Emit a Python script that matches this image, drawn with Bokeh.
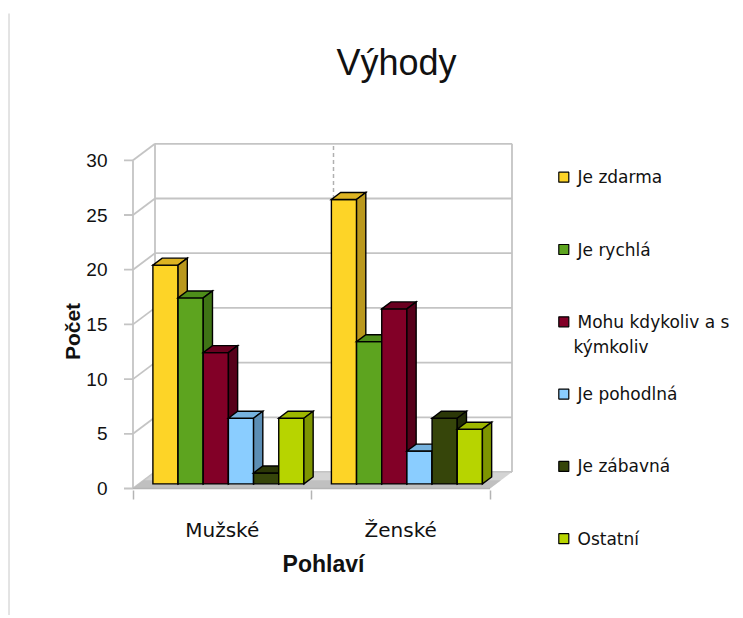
import textwrap
from math import pi

from bokeh.plotting import figure
from bokeh.models import ColumnDataSource, FixedTicker, Range1d, Label
from bokeh.core.properties import value
from bokeh.embed import file_html
from bokeh.resources import INLINE

# ---------------- data ----------------
categories = ["Mužské", "Ženské"]
series = ["Je zdarma", "Je rychlá", "Mohu kdykoliv a s kýmkoliv",
          "Je pohodlná", "Je zábavná", "Ostatní"]
muzske = [20, 17, 12, 6, 1, 6]
zenske = [26, 13, 16, 3, 6, 5]
y_ticks = [0, 5, 10, 15, 20, 25, 30]
title_text = "Výhody"
x_title = "Pohlaví"
y_title = "Počet"

# ---------------- styles ----------------
front_colors = ["#FDD427", "#5DA41F", "#820027", "#8ACDFF", "#36450A", "#B7D400"]
top_colors = ["#DDB322", "#4E8D1A", "#6A0020", "#76B2DE", "#2B3707", "#9DB600"]
side_colors = ["#BA981D", "#3F7415", "#56001A", "#5C8EB5", "#222C06", "#7E9500"]
FONT = "Liberation Sans"
WFONT = "DejaVu Sans"
GRID = "#c4c4c4"
TXT = "#111111"

# pixel geometry (canvas coordinates) -> linear data mapping
X0, UX = 132.5, 178.5      # x=0 front-left edge, pixels per category
Y0, UY = 488.0, 10.94      # y=0 front edge, pixels per unit
W, H = 740, 615


def xd(px):
    return (px - X0) / UX


def yd(py):
    return (Y0 - py) / UY


DX = 22.0 / UX             # depth of the walls (data units)
DY = 16.5 / UY
F0 = 0.28                  # depth where bars start
FB = 0.42                  # depth of a bar
BAR_W = 0.141
MARGIN = (1 - len(series) * BAR_W) / 2

p = figure(width=W, height=H, output_backend="svg", toolbar_location=None,
           x_range=Range1d(xd(0), xd(W)), y_range=Range1d(yd(H), yd(0)),
           min_border=0, min_border_left=0, min_border_right=0,
           min_border_top=0, min_border_bottom=0,
           background_fill_color="white", border_fill_color="white")
p.outline_line_color = None
p.xgrid.visible = False
p.ygrid.visible = False

n_groups = len(categories)
ymax = y_ticks[-1]

# chart-area border on the left
p.segment(x0=[xd(8.5)], y0=[yd(13)], x1=[xd(8.5)], y1=[yd(H)],
          line_color="#c8c8c8", line_width=1)

# ---- walls: back wall grid, left wall diagonals, edges ----
p.segment(x0=[DX] * len(y_ticks), y0=[v + DY for v in y_ticks],
          x1=[n_groups + DX] * len(y_ticks), y1=[v + DY for v in y_ticks],
          line_color=GRID, line_width=1.8)
p.segment(x0=[0] * len(y_ticks), y0=y_ticks,
          x1=[DX] * len(y_ticks), y1=[v + DY for v in y_ticks],
          line_color=GRID, line_width=1.8)
p.segment(x0=[-9 / UX] * len(y_ticks), y0=y_ticks,
          x1=[0] * len(y_ticks), y1=y_ticks,
          line_color=GRID, line_width=1.8)
p.segment(x0=[0, DX, n_groups + DX], y0=[0, DY, DY],
          x1=[0, DX, n_groups + DX], y1=[ymax, ymax + DY, ymax + DY],
          line_color=GRID, line_width=1.8)
# dashed separator between categories on the back wall
p.segment(x0=[g + DX for g in range(1, n_groups)], y0=[DY] * (n_groups - 1),
          x1=[g + DX for g in range(1, n_groups)], y1=[ymax + DY] * (n_groups - 1),
          line_color="#b0b0b0", line_width=1.5, line_dash="4 3")

# ---- floor ----
p.patch(x=[0, n_groups, n_groups + DX, DX], y=[0, 0, DY, DY],
        fill_color="#cccccc", fill_alpha=0.85, line_color=None)
p.patch(x=[0, n_groups, n_groups + DX * 0.5, DX * 0.5], y=[0, 0, DY * 0.5, DY * 0.5],
        fill_color="#b8b8b8", fill_alpha=0.7, line_color=None)
p.line(x=[0, n_groups], y=[0, 0], line_color="#b4b4b4", line_width=1.5)

# ---- bars ----
xs, ys, fills = [], [], []
for g, vals in enumerate([muzske, zenske]):
    for s, v in enumerate(vals):
        left = g + MARGIN + s * BAR_W + F0 * DX
        right = left + BAR_W
        bot = F0 * DY
        top = v + F0 * DY
        ddx, ddy = FB * DX, FB * DY
        xs.append([left, right, right, left])              # front
        ys.append([bot, bot, top, top])
        fills.append(front_colors[s])
        xs.append([left, right, right + ddx, left + ddx])  # top
        ys.append([top, top, top + ddy, top + ddy])
        fills.append(top_colors[s])
        xs.append([right, right + ddx, right + ddx, right])  # side
        ys.append([bot, bot + ddy, top + ddy, top])
        fills.append(side_colors[s])

p.patches(xs="xs", ys="ys", fill_color="fills", line_color="black", line_width=1.4,
          line_join="miter", source=ColumnDataSource(dict(xs=xs, ys=ys, fills=fills)))

# ---- axes (pinned inside the full-canvas frame) ----
yax = p.yaxis[0]
yax.fixed_location = xd(117)
yax.ticker = FixedTicker(ticks=y_ticks)
yax.axis_line_color = None
yax.major_tick_line_color = None
yax.minor_tick_line_color = None
yax.major_tick_out = 0
yax.major_tick_in = 0
yax.major_label_standoff = 10
yax.major_label_text_font = FONT
yax.major_label_text_font_size = "19px"
yax.major_label_text_color = TXT

xax = p.xaxis[0]
xax.fixed_location = yd(490)
xax.ticker = FixedTicker(ticks=[g + 0.5 for g in range(n_groups)],
                         minor_ticks=list(range(n_groups + 1)))
xax.major_label_overrides = {g + 0.5: c for g, c in enumerate(categories)}
xax.axis_line_color = None
xax.major_tick_line_color = None
xax.major_tick_out = 0
xax.major_tick_in = 0
xax.minor_tick_line_color = "#b4b4b4"
xax.minor_tick_line_width = 1.5
xax.minor_tick_out = 9
xax.minor_tick_in = 0
xax.major_label_standoff = 18
xax.major_label_text_font = WFONT
xax.major_label_text_font_size = "20px"
xax.major_label_text_color = TXT

# ---- titles ----
p.add_layout(Label(x=xd(396), y=yd(62), text=title_text, text_font=FONT,
                   text_font_size="36px", text_align="center",
                   text_baseline="alphabetic", text_color=TXT))
p.add_layout(Label(x=xd(323), y=yd(563), text=x_title, text_font=FONT,
                   text_font_size="23px", text_font_style="bold", text_align="center",
                   text_baseline="alphabetic", text_color=TXT))
p.add_layout(Label(x=xd(72), y=yd(331), text=y_title, text_font=FONT,
                   text_font_size="21px", text_font_style="bold", text_align="center",
                   text_baseline="middle", angle=pi / 2, text_color=TXT))

# ---- legend (manual, evenly spaced like the original) ----
LEG_Y0, LEG_STEP, LEG_LINE = 176.7, 72.3, 25
sq_x, sq_y, t_x, t_y, t_txt = [], [], [], [], []
for i, name in enumerate(series):
    cy = LEG_Y0 + i * LEG_STEP
    sq_x.append(xd(563.3))
    sq_y.append(yd(cy))
    for j, line in enumerate(textwrap.wrap(name, 17)):
        t_x.append(xd(577) if j == 0 else xd(573))
        t_y.append(yd(cy + j * LEG_LINE))
        t_txt.append(line)
p.scatter(x=sq_x, y=sq_y, marker="square", size=10, fill_color=front_colors,
          line_color="black", line_width=1.2)
p.text(x=t_x, y=t_y, text=t_txt, text_font=value(WFONT), text_font_size=value("17px"),
       text_baseline="middle", text_align="left", text_color=TXT)

open("out.html", "w").write(file_html(p, INLINE))
